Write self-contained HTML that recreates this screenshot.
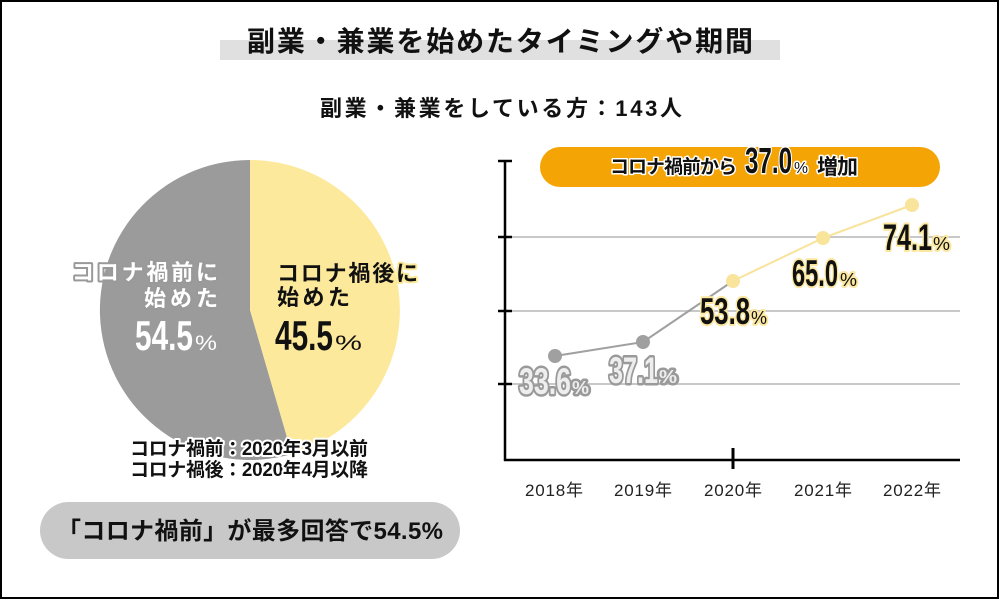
<!DOCTYPE html>
<html><head><meta charset="utf-8">
<style>
html,body{margin:0;padding:0;background:#fff;}
svg{display:block;}
.jp{font-family:"Liberation Sans","Noto Sans CJK JP",sans-serif;font-weight:700;}
.num{font-family:"Liberation Sans Narrow","Liberation Sans",sans-serif;font-weight:700;}
</style></head>
<body>
<svg width="1000" height="600" viewBox="0 0 1000 600" xmlns="http://www.w3.org/2000/svg">
<rect x="0" y="0" width="1000" height="600" fill="#fff"/>
<rect x="1" y="1" width="997" height="597" fill="none" stroke="#000" stroke-width="2"/>

<!-- Title -->
<rect x="220" y="40" width="560" height="20" fill="#e0e0e0"/>
<text class="jp" x="247" y="51" font-size="28" fill="#111" textLength="506">副業・兼業を始めたタイミングや期間</text>
<text class="jp" x="320" y="116" font-size="22" fill="#111" textLength="362">副業・兼業をしている方：143人</text>

<!-- Pie -->
<path d="M250,310 L291.9,454 A150,150 0 1,1 250,160 Z" fill="#9b9b9b"/>
<path d="M250,310 L250,160 A150,150 0 0,1 291.9,454 Z" fill="#fde99b"/>

<g class="jp" font-size="22" fill="#fff" stroke="#999" stroke-width="4" paint-order="stroke" stroke-linejoin="round">
<text x="72" y="280" textLength="146">コロナ禍前に</text>
<text x="144" y="306" textLength="74">始めた</text>
</g>
<text class="num" x="135" y="350" font-size="42" fill="#fff" textLength="58" lengthAdjust="spacingAndGlyphs">54.5</text>
<text x="195" y="350" font-family="Liberation Sans,sans-serif" font-size="21" fill="#fff" textLength="22" lengthAdjust="spacingAndGlyphs">%</text>

<g class="jp" font-size="22" fill="#111" stroke="#fde99b" stroke-width="4" paint-order="stroke" stroke-linejoin="round">
<text x="277" y="281" textLength="141">コロナ禍後に</text>
<text x="277" y="305" textLength="73">始めた</text>
</g>
<text class="num" x="275" y="350" font-size="42" fill="#111" textLength="58" lengthAdjust="spacingAndGlyphs">45.5</text>
<text x="335" y="350" font-family="Liberation Sans,sans-serif" font-size="21" fill="#111" textLength="27" lengthAdjust="spacingAndGlyphs">%</text>

<g class="jp" font-size="19" fill="#111" stroke="#fff" stroke-width="4" paint-order="stroke" stroke-linejoin="round">
<text x="130" y="455" textLength="238">コロナ禍前：2020年3月以前</text>
<text x="130" y="476" textLength="238">コロナ禍後：2020年4月以降</text>
</g>

<!-- Bottom pill -->
<rect x="40" y="502" width="420" height="57" rx="28.5" fill="#c8c8c8"/>
<text class="jp" x="57" y="539" font-size="24" fill="#111" textLength="386">「コロナ禍前」が最多回答で54.5%</text>

<!-- Line chart -->
<g stroke="#c8c8c8" stroke-width="2">
<line x1="505" y1="237" x2="960" y2="237"/>
<line x1="505" y1="311" x2="960" y2="311"/>
<line x1="505" y1="384" x2="960" y2="384"/>
</g>
<g stroke="#000" stroke-width="2.5">
<line x1="505" y1="160" x2="505" y2="461"/>
<line x1="504" y1="460" x2="960" y2="460"/>
<line x1="498" y1="161" x2="512" y2="161"/>
<line x1="498" y1="237" x2="512" y2="237"/>
<line x1="498" y1="311" x2="512" y2="311"/>
<line x1="498" y1="384" x2="512" y2="384"/>
<line x1="733" y1="448" x2="733" y2="469" stroke-width="3"/>
</g>
<g font-family="Liberation Sans,'Noto Sans CJK JP',sans-serif" font-size="17" fill="#222">
<text x="525" y="496" textLength="58">2018年</text>
<text x="614" y="496" textLength="58">2019年</text>
<text x="704" y="496" textLength="58">2020年</text>
<text x="794" y="496" textLength="58">2021年</text>
<text x="883" y="496" textLength="58">2022年</text>
</g>

<polyline points="555,356 643,342 733,281" fill="none" stroke="#a0a0a0" stroke-width="2"/>
<polyline points="733,281 823,238 912,205" fill="none" stroke="#f8e39a" stroke-width="2"/>
<circle cx="555" cy="356" r="7" fill="#a0a0a0"/>
<circle cx="643" cy="342" r="7" fill="#a0a0a0"/>
<circle cx="733" cy="281" r="7" fill="#f9e49b"/>
<circle cx="823" cy="238" r="7" fill="#f9e49b"/>
<circle cx="912" cy="205" r="7" fill="#f9e49b"/>

<!-- gray outlined labels -->
<g fill="#eeeeee" stroke="#9a9a9a" stroke-width="5" paint-order="stroke" stroke-linejoin="round">
<text class="num" x="519" y="394" font-size="37" textLength="52" lengthAdjust="spacingAndGlyphs">33.6</text>
<text x="572" y="394" font-family="Liberation Sans,sans-serif" font-weight="700" font-size="18" textLength="17" lengthAdjust="spacingAndGlyphs">%</text>
<text class="num" x="609" y="383" font-size="37" textLength="49" lengthAdjust="spacingAndGlyphs">37.1</text>
<text x="659" y="383" font-family="Liberation Sans,sans-serif" font-weight="700" font-size="18" textLength="18" lengthAdjust="spacingAndGlyphs">%</text>
</g>

<!-- yellow outlined labels -->
<g fill="#111" stroke="#fbe7a0" stroke-width="4" paint-order="stroke" stroke-linejoin="round">
<text class="num" x="700" y="324" font-size="37" textLength="50" lengthAdjust="spacingAndGlyphs">53.8</text>
<text x="751" y="324" font-family="Liberation Sans,sans-serif" font-size="18" textLength="16" lengthAdjust="spacingAndGlyphs">%</text>
<text class="num" x="792" y="286" font-size="37" textLength="46" lengthAdjust="spacingAndGlyphs">65.0</text>
<text x="840" y="286" font-family="Liberation Sans,sans-serif" font-size="18" textLength="17" lengthAdjust="spacingAndGlyphs">%</text>
<text class="num" x="883" y="250" font-size="37" textLength="49" lengthAdjust="spacingAndGlyphs">74.1</text>
<text x="933" y="250" font-family="Liberation Sans,sans-serif" font-size="18" textLength="17" lengthAdjust="spacingAndGlyphs">%</text>
</g>

<!-- Banner -->
<rect x="540" y="147" width="400" height="40" rx="20" fill="#f4a404"/>
<g fill="#111" stroke="#fff" stroke-width="3" paint-order="stroke" stroke-linejoin="round">
<text class="jp" x="610" y="173" font-size="19" textLength="127">コロナ禍前から</text>
<text class="num" x="745" y="173" font-size="36" textLength="47" lengthAdjust="spacingAndGlyphs">37.0</text>
<text x="794" y="173" font-family="Liberation Sans,sans-serif" font-size="16" textLength="14" lengthAdjust="spacingAndGlyphs">%</text>
<text class="jp" x="817" y="174" font-size="21" textLength="41">増加</text>
</g>
</svg>
</body></html>
